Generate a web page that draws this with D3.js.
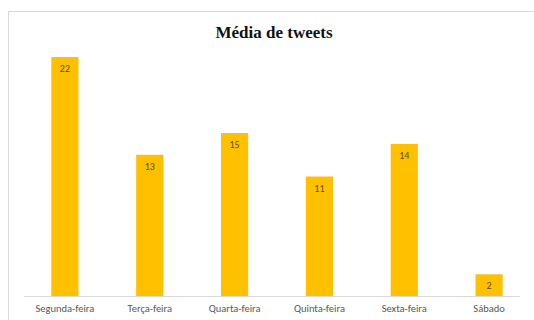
<!DOCTYPE html>
<html>
<head>
<meta charset="utf-8">
<script src="https://cdn.jsdelivr.net/npm/d3@7"></script>
<style>
  html, body { margin: 0; padding: 0; background: #fff; }
  svg { display: block; }
</style>
</head>
<body>
<svg id="chart" width="534" height="320"></svg>
<script>
// Average tweets per weekday
const dias = ["Segunda-feira", "Terça-feira", "Quarta-feira", "Quinta-feira", "Sexta-feira", "Sábado"];
const medias = [22, 13, 15, 11, 14, 2];
const titulo = "Média de tweets";

const svg = d3.select("#chart");
const W = 534, H = 320;

// Chart area frame
svg.append("rect")
  .attr("x", 8.5).attr("y", 11.5)
  .attr("width", W).attr("height", H)
  .attr("fill", "#fff")
  .attr("stroke", "#d9d9d9");

svg.append("text")
  .attr("x", 274).attr("y", 38)
  .attr("text-anchor", "middle")
  .attr("font-family", "'Liberation Serif', 'Times New Roman', serif")
  .attr("font-weight", "bold")
  .attr("font-size", 17)
  .attr("fill", "#111")
  .text(titulo);

const baseY = 296;
const x = d3.scaleBand().domain(dias).range([22.5, 531.5]).paddingInner(0.68).paddingOuter(0.34);
const y = d3.scaleLinear().domain([0, 22]).range([baseY, 57]);

svg.append("g").selectAll("rect")
  .data(dias)
  .join("rect")
  .attr("x", d => x(d))
  .attr("y", (d, i) => y(medias[i]))
  .attr("width", x.bandwidth())
  .attr("height", (d, i) => baseY - y(medias[i]))
  .attr("fill", "#FFC000");

svg.append("g").selectAll("text")
  .data(dias)
  .join("text")
  .attr("x", d => x(d) + x.bandwidth() / 2)
  .attr("y", (d, i) => y(medias[i]) + 15)
  .attr("text-anchor", "middle")
  .attr("font-family", "Carlito, 'Liberation Sans', Arial, sans-serif")
  .attr("font-size", 10)
  .attr("fill", "#5a4a1a")
  .text((d, i) => medias[i]);

// Category axis along the baseline
const axis = svg.append("g").attr("transform", `translate(0,${baseY})`)
  .call(d3.axisBottom(x).tickSize(0).tickPadding(9));
axis.select(".domain").attr("stroke", "#d9d9d9").attr("d", "M24,0.5H520");
axis.selectAll("text")
  .attr("font-family", "Carlito, 'Liberation Sans', Arial, sans-serif")
  .attr("font-size", 10.5)
  .attr("fill", "#595959");
</script>
</body>
</html>
